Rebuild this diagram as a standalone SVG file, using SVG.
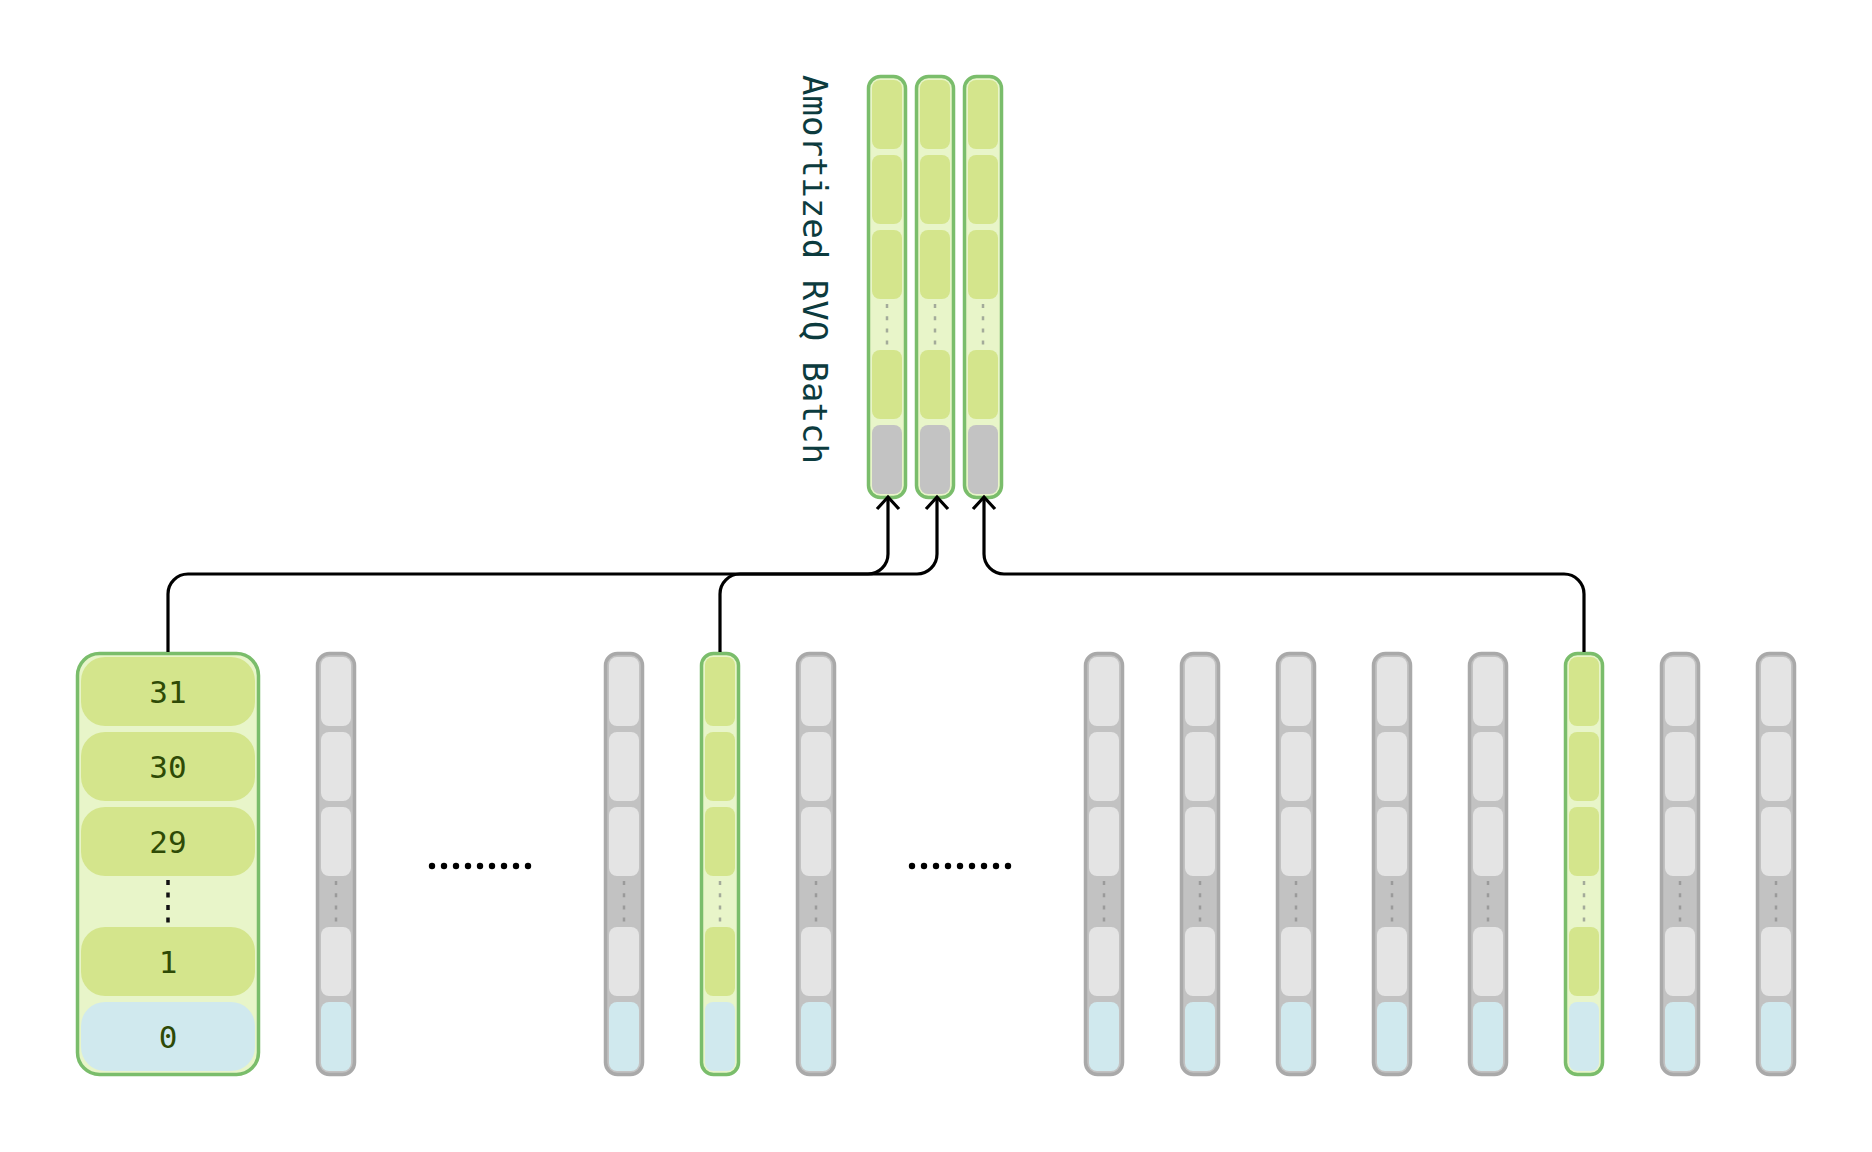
<svg xmlns="http://www.w3.org/2000/svg" xmlns:xlink="http://www.w3.org/1999/xlink" width="1872" height="1152" viewBox="0 0 1872 1152">
<style>
.gcol{fill:#c2c2c2;stroke:#a9a9a9;stroke-width:3.5}
.ncol{fill:#e8f5c9;stroke:#7abd6b;stroke-width:3.5}
.gcell{fill:#e4e4e4}
.ncell{fill:#d4e58c}
.bcell{fill:#d0e9ee}
.kcell{fill:#c3c3c3}
.gdots{stroke:#9a9a9a;stroke-width:2.5;stroke-dasharray:4 8.2;fill:none}
.ndots{stroke:#a3ab9a;stroke-width:2.5;stroke-dasharray:4 8.2;fill:none}
.kdots{stroke:#111;stroke-width:3.5;stroke-dasharray:5 7.5;fill:none}
.num{font-family:"DejaVu Sans Mono","Liberation Mono",monospace;font-size:31px;fill:#2e4a06;text-anchor:middle}
.title{font-family:"DejaVu Sans Mono","Liberation Mono",monospace;font-size:34px;fill:#0c3b3e}
.conn{fill:none;stroke:#000;stroke-width:3.2}
.ell{fill:#000}
</style>
<defs>
<marker id="arr" viewBox="-16 -16 32 32" markerWidth="32" markerHeight="32" refX="0" refY="0" orient="auto" markerUnits="userSpaceOnUse">
<path d="M-12 -11 L0 0 L-12 11" fill="none" stroke="#000" stroke-width="3.2"/>
</marker>
<g id="tpl-gray">
<rect class="gcol" x="1.5" y="1.5" width="37" height="421" rx="12"/>
<rect class="gcell" x="5" y="5" width="30" height="69" rx="8"/>
<rect class="gcell" x="5" y="80" width="30" height="69" rx="8"/>
<rect class="gcell" x="5" y="155" width="30" height="69" rx="8"/>
<rect class="gcell" x="5" y="275" width="30" height="69" rx="8"/>
<rect class="bcell" x="5" y="350" width="30" height="69" rx="8"/>
<line class="gdots" x1="20" y1="229" x2="20" y2="271"/>
</g>
<g id="tpl-green">
<rect class="ncol" x="1.5" y="1.5" width="37" height="421" rx="12"/>
<rect class="ncell" x="5" y="5" width="30" height="69" rx="8"/>
<rect class="ncell" x="5" y="80" width="30" height="69" rx="8"/>
<rect class="ncell" x="5" y="155" width="30" height="69" rx="8"/>
<rect class="ncell" x="5" y="275" width="30" height="69" rx="8"/>
<rect class="bcell" x="5" y="350" width="30" height="69" rx="8"/>
<line class="ndots" x1="20" y1="229" x2="20" y2="271"/>
</g>
<g id="tpl-batch">
<rect class="ncol" x="1.5" y="1.5" width="37" height="421" rx="12"/>
<rect class="ncell" x="5" y="5" width="30" height="69" rx="8"/>
<rect class="ncell" x="5" y="80" width="30" height="69" rx="8"/>
<rect class="ncell" x="5" y="155" width="30" height="69" rx="8"/>
<rect class="ncell" x="5" y="275" width="30" height="69" rx="8"/>
<rect class="kcell" x="5" y="350" width="30" height="69" rx="8"/>
<line class="ndots" x1="20" y1="229" x2="20" y2="271"/>
</g>
</defs>
<rect width="1872" height="1152" fill="#ffffff"/>

<g id="title">
<text class="title" transform="translate(803,75) rotate(90)" x="0" y="0">Amortized RVQ Batch</text>
</g>

<g id="batch-1" transform="translate(867,75)"><use href="#tpl-batch"/></g>
<g id="batch-2" transform="translate(915,75)"><use href="#tpl-batch"/></g>
<g id="batch-3" transform="translate(963,75)"><use href="#tpl-batch"/></g>

<g id="frame-detail">
<rect class="ncol" x="77.5" y="653.5" width="181" height="421" rx="22"/>
<rect class="ncell" x="81" y="657" width="174" height="69" rx="24"/>
<rect class="ncell" x="81" y="732" width="174" height="69" rx="24"/>
<rect class="ncell" x="81" y="807" width="174" height="69" rx="24"/>
<rect class="ncell" x="81" y="927" width="174" height="69" rx="24"/>
<rect class="bcell" x="81" y="1002" width="174" height="69" rx="24"/>
<line class="kdots" x1="168" y1="880" x2="168" y2="924"/>
<text class="num" x="168" y="703">31</text>
<text class="num" x="168" y="778">30</text>
<text class="num" x="168" y="853">29</text>
<text class="num" x="168" y="973">1</text>
<text class="num" x="168" y="1048">0</text>
</g>

<g id="col-1" transform="translate(316,652)"><use href="#tpl-gray"/></g>
<g id="ellipsis-1">
<circle class="ell" cx="432" cy="866" r="3.2"/><circle class="ell" cx="444" cy="866" r="3.2"/><circle class="ell" cx="456" cy="866" r="3.2"/><circle class="ell" cx="468" cy="866" r="3.2"/><circle class="ell" cx="480" cy="866" r="3.2"/><circle class="ell" cx="492" cy="866" r="3.2"/><circle class="ell" cx="504" cy="866" r="3.2"/><circle class="ell" cx="516" cy="866" r="3.2"/><circle class="ell" cx="528" cy="866" r="3.2"/>
</g>
<g id="col-2" transform="translate(604,652)"><use href="#tpl-gray"/></g>
<g id="col-3" transform="translate(700,652)"><use href="#tpl-green"/></g>
<g id="col-4" transform="translate(796,652)"><use href="#tpl-gray"/></g>
<g id="ellipsis-2">
<circle class="ell" cx="912" cy="866" r="3.2"/><circle class="ell" cx="924" cy="866" r="3.2"/><circle class="ell" cx="936" cy="866" r="3.2"/><circle class="ell" cx="948" cy="866" r="3.2"/><circle class="ell" cx="960" cy="866" r="3.2"/><circle class="ell" cx="972" cy="866" r="3.2"/><circle class="ell" cx="984" cy="866" r="3.2"/><circle class="ell" cx="996" cy="866" r="3.2"/><circle class="ell" cx="1008" cy="866" r="3.2"/>
</g>
<g id="col-5" transform="translate(1084,652)"><use href="#tpl-gray"/></g>
<g id="col-6" transform="translate(1180,652)"><use href="#tpl-gray"/></g>
<g id="col-7" transform="translate(1276,652)"><use href="#tpl-gray"/></g>
<g id="col-8" transform="translate(1372,652)"><use href="#tpl-gray"/></g>
<g id="col-9" transform="translate(1468,652)"><use href="#tpl-gray"/></g>
<g id="col-10" transform="translate(1564,652)"><use href="#tpl-green"/></g>
<g id="col-11" transform="translate(1660,652)"><use href="#tpl-gray"/></g>
<g id="col-12" transform="translate(1756,652)"><use href="#tpl-gray"/></g>

<g id="connectors">
<path class="conn" marker-end="url(#arr)" d="M168 652 V594 A20 20 0 0 1 188 574 H868 A20 20 0 0 0 888 554 V497"/>
<path class="conn" marker-end="url(#arr)" d="M720 652 V594 A20 20 0 0 1 740 574 H917 A20 20 0 0 0 937 554 V497"/>
<path class="conn" marker-end="url(#arr)" d="M1584 652 V594 A20 20 0 0 0 1564 574 H1004 A20 20 0 0 1 984 554 V497"/>
</g>
</svg>
